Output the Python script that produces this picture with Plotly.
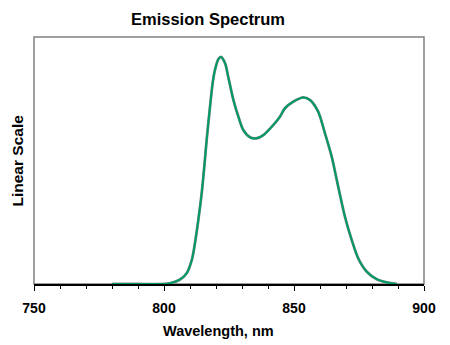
import plotly.graph_objects as go

wavelength = [780, 790, 800, 802.3, 806.2, 808.7, 810.7, 811.9, 813.2, 814.5, 815.5, 816.4,
              817.7, 818.7, 819.6, 820.9, 821.9, 823.5, 824.7, 826.7, 828.6, 830.5, 833.1,
              835.7, 838.2, 842.0, 844.6, 846.5, 849.7, 853.6, 856.2, 859.3, 861.9, 864.5,
              867.0, 869.6, 872.2, 874.7, 878.0, 881.8, 885.7, 889.5]
intensity = [0, 0, 0, 0.003, 0.02, 0.047, 0.106, 0.179, 0.282, 0.4, 0.517, 0.634,
             0.781, 0.884, 0.943, 0.99, 1.0, 0.972, 0.913, 0.81, 0.737, 0.678, 0.646,
             0.642, 0.656, 0.700, 0.737, 0.774, 0.803, 0.822, 0.81, 0.759, 0.664, 0.561,
             0.429, 0.296, 0.194, 0.113, 0.054, 0.021, 0.007, 0.0]

x_ticks = [750, 800, 850, 900]
x_tick_labels = ["750", "800", "850", "900"]

fig = go.Figure()
fig.add_trace(go.Scatter(x=wavelength, y=intensity, mode="lines",
                         line=dict(color="#8c8c8c", width=2.8, shape="spline", smoothing=0.8),
                         hoverinfo="skip"))
fig.add_trace(go.Scatter(x=wavelength, y=intensity, mode="lines",
                         line=dict(color="#009a68", width=2, shape="spline", smoothing=0.8)))

font = "Liberation Sans, Arial, sans-serif"
fig.update_layout(
    width=450, height=345,
    margin=dict(l=34, r=26, t=37, b=61),
    paper_bgcolor="white", plot_bgcolor="white",
    showlegend=False,
    font=dict(family=font, color="black"),
    xaxis=dict(range=[750, 900], tickvals=x_ticks,
               ticktext=["<b>%s</b>" % t for t in x_tick_labels],
               ticks="outside", ticklen=5, tickwidth=1, ticklabelstandoff=5,
               tickcolor="black", showline=True, linecolor="black", linewidth=1.5,
               showgrid=False, zeroline=False,
               tickfont=dict(family=font, size=14, color="black"),
               minor=dict(dtick=10, ticks="outside", ticklen=3, tickcolor="black", showgrid=False)),
    yaxis=dict(range=[0, 1.088], showticklabels=False, ticks="", showgrid=False,
               zeroline=False, showline=False),
    shapes=[dict(type="rect", xref="paper", yref="paper", x0=0, x1=1, y0=0, y1=1,
                 line=dict(color="#808080", width=1.5), layer="below")],
    annotations=[
        dict(text="<b>Emission Spectrum</b>", xref="paper", yref="paper", x=0.446, y=1.0,
             yshift=7, xanchor="center", yanchor="bottom", showarrow=False,
             font=dict(family=font, size=16.5, color="black")),
        dict(text="<b>Wavelength, nm</b>", xref="paper", yref="paper", x=0.473, y=0,
             yshift=-37, xanchor="center", yanchor="top", showarrow=False,
             font=dict(family=font, size=14.5, color="black")),
        dict(text="<b>Linear Scale</b>", xref="paper", yref="paper", x=0, y=0.5,
             xshift=-17, textangle=-90, xanchor="center", yanchor="middle", showarrow=False,
             font=dict(family=font, size=15.5, color="black")),
    ],
)
fig.write_html("out.html")
